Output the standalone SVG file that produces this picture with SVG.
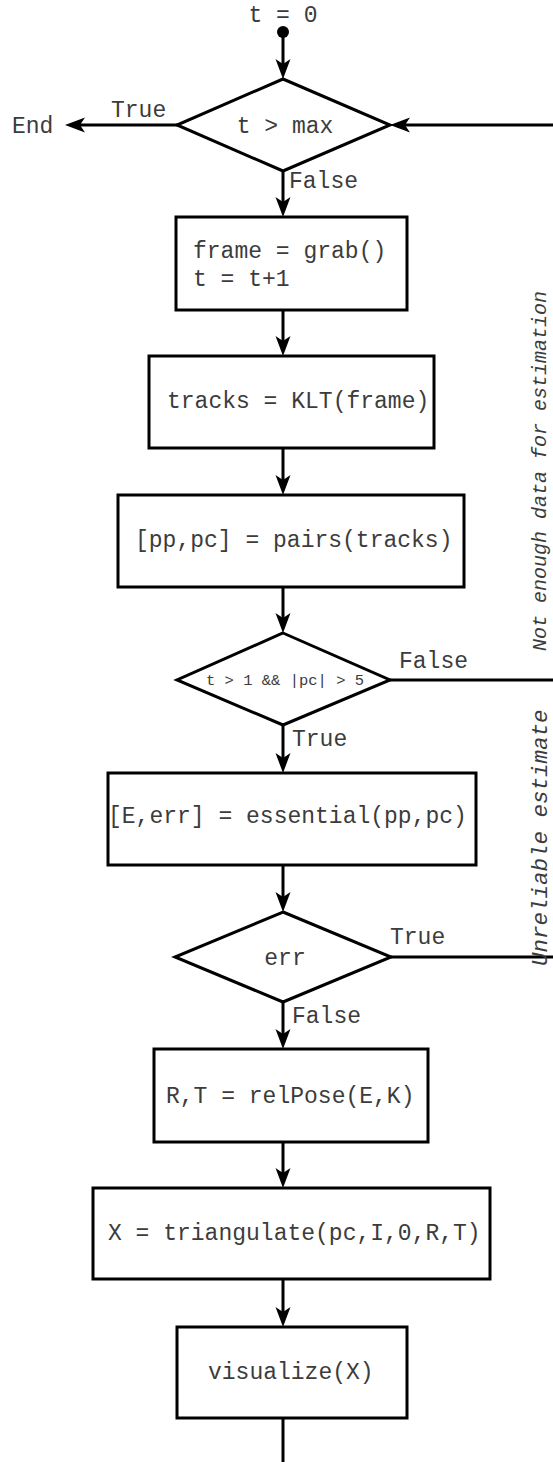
<svg xmlns="http://www.w3.org/2000/svg" width="553" height="1462" viewBox="0 0 553 1462">
  <style>
    .box { fill: #ffffff; stroke: #000000; stroke-width: 3; }
    .dia { fill: #ffffff; stroke: #000000; stroke-width: 3; stroke-linejoin: miter; }
    .edge { fill: none; stroke: #000000; stroke-width: 3; }
    .arrow { fill: none; stroke: #000000; stroke-width: 3; marker-end: url(#head); }
    .t { font-family: "Liberation Mono", "DejaVu Sans Mono", monospace; font-size: 23px; fill: #3c3c3c; }
    .small { font-size: 15.5px; }
    .note { font-style: italic; }
    .mid { text-anchor: middle; }
  </style>
  <defs>
    <marker id="head" markerUnits="userSpaceOnUse" viewBox="-12 -8 22 16" refX="0" refY="0" markerWidth="22" markerHeight="16" orient="auto">
      <path d="M9,0 L-11,-7.5 L-6,0 L-11,7.5 Z" fill="#000000"/>
    </marker>
  </defs>

  <!-- connectors -->
  <g id="connectors">
    <path class="arrow" d="M283,32 V70"/>
    <path class="arrow" d="M178,125 H74"/>
    <path class="arrow" d="M283,171 V208"/>
    <path class="arrow" d="M283,310 V347"/>
    <path class="arrow" d="M283,448 V486"/>
    <path class="arrow" d="M283,587 V624"/>
    <path class="arrow" d="M283,725 V764"/>
    <path class="arrow" d="M283,865 V903"/>
    <path class="arrow" d="M283,1002 V1040"/>
    <path class="arrow" d="M283,1142 V1179"/>
    <path class="arrow" d="M283,1279 V1318"/>
    <path class="edge" d="M283,1418 V1470"/>
    <!-- loop back to the test on t -->
    <path class="arrow" d="M390,680 H575 V125 H399"/>
    <path class="edge" d="M391,957 H575 V680"/>
  </g>

  <!-- start point -->
  <g id="start">
    <text class="t mid" x="283" y="22">t = 0</text>
    <circle cx="283" cy="32" r="6" fill="#000000"/>
  </g>

  <g id="end">
    <text class="t" x="12" y="133">End</text>
  </g>

  <g id="test-max">
    <polygon class="dia" points="283,79 390,125 283,171 177,125"/>
    <text class="t mid" x="285" y="133">t &gt; max</text>
    <text class="t" x="111" y="117">True</text>
    <text class="t" x="289" y="188">False</text>
  </g>

  <g id="grab">
    <rect class="box" x="176" y="217" width="231" height="93"/>
    <text class="t" x="193" y="258">frame = grab()</text>
    <text class="t" x="193" y="286">t = t+1</text>
  </g>

  <g id="klt">
    <rect class="box" x="149" y="356" width="285" height="92"/>
    <text class="t" x="167" y="408">tracks = KLT(frame)</text>
  </g>

  <g id="pairs">
    <rect class="box" x="118" y="495" width="346" height="92"/>
    <text class="t" x="135" y="547">[pp,pc] = pairs(tracks)</text>
  </g>

  <g id="test-pairs">
    <polygon class="dia" points="283,633 390,680 283,725 177,680"/>
    <text class="t small mid" x="285" y="685">t &gt; 1 &amp;&amp; |pc| &gt; 5</text>
    <text class="t" x="399" y="668">False</text>
    <text class="t" x="292" y="746">True</text>
  </g>

  <g id="essential">
    <rect class="box" x="108" y="773" width="368" height="92"/>
    <text class="t" x="108" y="823">[E,err] = essential(pp,pc)</text>
  </g>

  <g id="test-err">
    <polygon class="dia" points="283,912 391,957 283,1002 175,957"/>
    <text class="t mid" x="285" y="965">err</text>
    <text class="t" x="390" y="944">True</text>
    <text class="t" x="292" y="1023">False</text>
  </g>

  <g id="relpose">
    <rect class="box" x="154" y="1049" width="274" height="93"/>
    <text class="t" x="166" y="1103">R,T = relPose(E,K)</text>
  </g>

  <g id="triangulate">
    <rect class="box" x="93" y="1188" width="397" height="91"/>
    <text class="t" x="108" y="1240">X = triangulate(pc,I,0,R,T)</text>
  </g>

  <g id="visualize">
    <rect class="box" x="177" y="1327" width="230" height="91"/>
    <text class="t" x="208" y="1379">visualize(X)</text>
  </g>

  <!-- side notes on the return path -->
  <g id="notes">
    <text class="t note" transform="translate(546,651) rotate(-90)" style="font-size:20px">Not enough data for estimation</text>
    <text class="t note" transform="translate(547,966) rotate(-90)" style="font-size:22.5px">Unreliable estimate</text>
  </g>
</svg>
